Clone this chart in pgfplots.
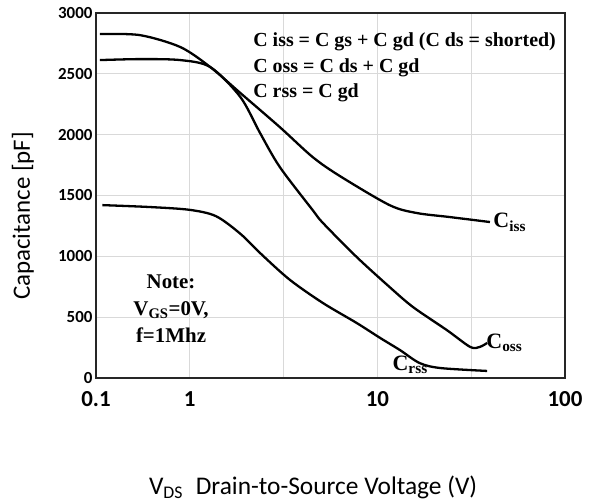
\documentclass[border=0pt]{standalone}
\usepackage{fontspec}
\setmainfont{Liberation Serif}
\newfontfamily\carlito{Carlito}
\usepackage{pgfplots}
\pgfplotsset{compat=1.18}

% capacitance vs V_DS (V, pF)
\pgfplotstableread{
v c
0.110 2827
0.295 2818
0.794 2720
1.288 2555
1.862 2342
3.020 2062
4.519 1816
6.310 1660
11.61 1421
16.22 1356
24.27 1323
39.81 1282
}\ciss
\pgfplotstableread{
v c
0.110 2613
0.295 2621
0.794 2613
1.288 2555
1.862 2309
2.371 2013
3.020 1734
4.519 1380
5.129 1274
7.762 994
11.61 748
15.49 583
23.44 394
31.26 255
35.08 255
38.46 288
}\coss
\pgfplotstableread{
v c
0.117 1421
0.380 1405
1.000 1382
1.380 1330
1.862 1185
2.455 1005
3.428 805
5.129 616
7.762 452
10.35 329
13.18 230
16.79 123
21.63 82
38.46 58
}\crss

\begin{document}
\begin{tikzpicture}
\begin{axis}[
  at={(0,0)}, anchor=south west,
  scale only axis, width=469bp, height=365bp,
  % the original x scale: one decade 0.1-1, then two grid cells per decade
  x coord trafo/.code={\pgfmathparse{log10(#1)+1+max(0,log10(#1))}},
  xmin=0.1, xmax=100, ymin=0, ymax=3000,
  xtick={0.1,1,3.1623,10,31.623,100},
  xticklabels={0.1,1,,10,,100},
  ytick={0,500,...,3000},
  grid=major,
  major grid style={black!15, line width=0.8bp},
  major tick length=0pt,
  axis line style={black!85, line width=1.2bp},
  /pgf/number format/assume math mode=true,
  /pgf/number format/1000 sep={},
  yticklabel style={font=\carlito\bfseries\fontsize{17}{17}\selectfont},
  xticklabel style={font=\carlito\bfseries\fontsize{23}{23}\selectfont, yshift=-10bp},
  clip=false,
]
\addplot[black, line width=2.3bp, smooth, no markers] table[x=v, y=c] {\ciss};
\addplot[black, line width=2.3bp, smooth, no markers] table[x=v, y=c] {\coss};
\addplot[black, line width=2.3bp, smooth, no markers] table[x=v, y=c] {\crss};

\node[anchor=west, font=\bfseries\fontsize{20}{20}\selectfont] at (rel axis cs:0.328,0.921) {C iss = C gs + C gd (C ds = shorted)};
\node[anchor=west, font=\bfseries\fontsize{20}{20}\selectfont] at (rel axis cs:0.328,0.849) {C oss = C ds + C gd};
\node[anchor=west, font=\bfseries\fontsize{20}{20}\selectfont] at (rel axis cs:0.328,0.781) {C rss = C gd};

\node[align=center, font=\bfseries\fontsize{21}{27}\selectfont] at (rel axis cs:0.160,0.190) {Note:\\V\textsubscript{GS}=0V,\\f=1Mhz};

\node[anchor=west, font=\bfseries\fontsize{22}{22}\selectfont] at (rel axis cs:0.840,0.427) {C\textsubscript{iss}};
\node[anchor=west, font=\bfseries\fontsize{22}{22}\selectfont] at (rel axis cs:0.825,0.096) {C\textsubscript{oss}};
\node[anchor=west, font=\bfseries\fontsize{22}{22}\selectfont] at (rel axis cs:0.625,0.036) {C\textsubscript{rss}};

\node[font=\carlito\fontsize{25.5}{25.5}\selectfont] at (rel axis cs:0.463,-0.301) {V\textsubscript{DS}\enspace Drain-to-Source Voltage (V)};
\node[rotate=90, font=\carlito\fontsize{25}{25}\selectfont] at (rel axis cs:-0.156,0.444) {Capacitance [pF]};
\end{axis}
\path (-96bp,-125bp) rectangle (496bp,378bp);
\end{tikzpicture}
\end{document}
